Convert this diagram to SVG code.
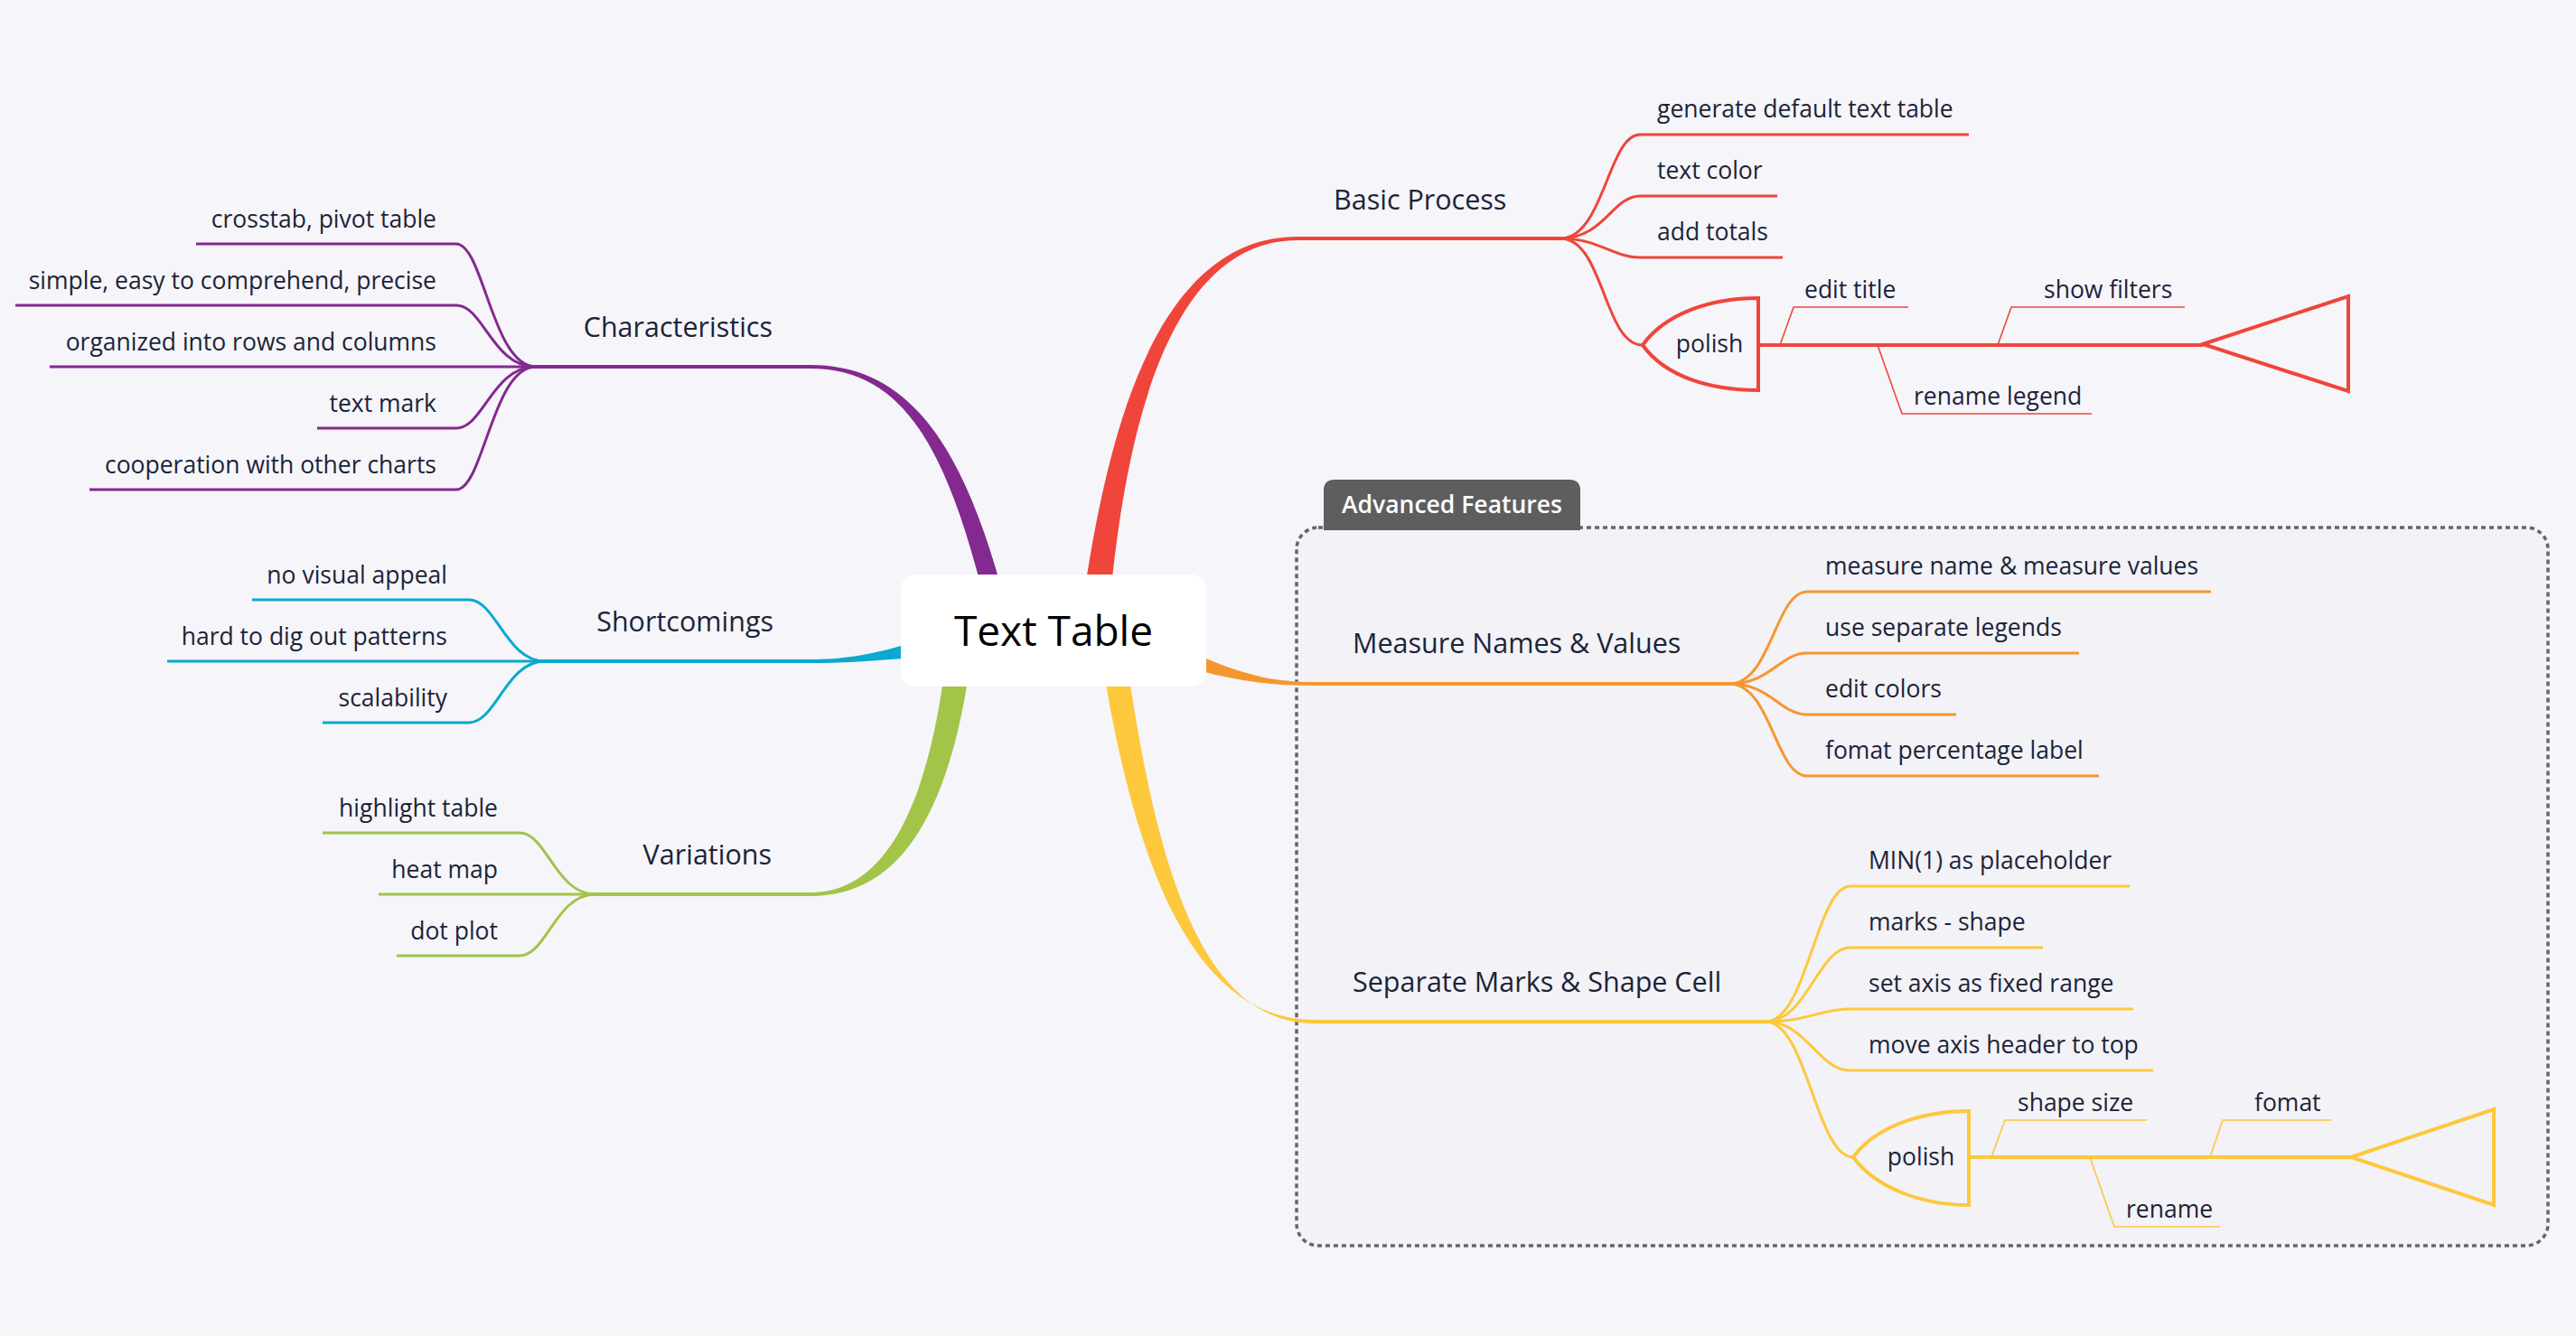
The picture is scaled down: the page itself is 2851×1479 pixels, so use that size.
<svg xmlns="http://www.w3.org/2000/svg" width="2851" height="1479" viewBox="0 0 2851 1479">
<style>
text{font-family:"Open Sans","Noto Sans","Liberation Sans",sans-serif;fill:#1C2437}
.sub{font-size:26.5px}
.main{font-size:30.5px}
.end{text-anchor:end}
.mid{text-anchor:middle}
.ln{fill:none;stroke-linecap:butt;stroke-linejoin:round}
.c3{stroke-width:3}
.c4{stroke-width:4}
.thin{stroke-width:1.6}
.pu{stroke:#83298F}
.te{stroke:#0AA9CF}
.gr{stroke:#A2C449}
.re{stroke:#F0453A}
.or{stroke:#F7962F}
.ye{stroke:#FDC83B}
</style>
<rect x="0" y="0" width="2851" height="1479" fill="#F5F5FA"/>

<g id="boundary-advanced-features">
<rect x="1435" y="584" width="1385" height="795" rx="24" fill="#F2F2F7" stroke="#666666" stroke-width="3.5" stroke-dasharray="5 4"/>
<path d="M1465,587 V543 Q1465,531 1477,531 H1737 Q1749,531 1749,543 V587 Z" fill="#5E5E5E"/>
<text x="1607" y="568" class="mid" style="font-size:26.5px;font-weight:600;fill:#FFFFFF">Advanced Features</text>
</g>

<g id="connectors">
<!-- root tapered branches -->
<path d="M1108,650 C1063,488 1003,404 897,404 L897,408 C997,408 1045,492 1086,650 Z" fill="#83298F"/>
<path d="M1201,650 C1225,495 1275,262 1436,262 L1436,266 C1285,266 1245,505 1230,650 Z" fill="#F0453A"/>
<path d="M1330,727 C1380,748 1410,755 1455,755 L1455,759 C1410,759 1375,755 1330,743 Z" fill="#F7962F"/>
<path d="M1208,650 C1240,900 1300,1129 1455,1129 L1455,1133 C1310,1133 1268,900 1236,650 Z" fill="#FDC83B"/>
<path d="M1054,650 C1040,880 985,988 897,988 L897,992 C1005,992 1065,885 1083,650 Z" fill="#A2C449"/>
<path d="M1000,714 C960,726 930,730 897,730 L897,734 C930,734 960,732 1000,729 Z" fill="#0AA9CF"/>

<!-- main topic lines -->
<path class="ln c4 pu" d="M593,406 H897"/>
<path class="ln c4 te" d="M603,732 H897"/>
<path class="ln c4 gr" d="M659,990 H897"/>
<path class="ln c4 re" d="M1433,264 H1727"/>
<path class="ln c4 or" d="M1455,757 H1914"/>
<path class="ln c4 ye" d="M1455,1131 H1954"/>

<!-- Characteristics children -->
<path class="ln c3 pu" d="M217,270 H505 C535,270 545,406 593,406"/>
<path class="ln c3 pu" d="M17,338 H505 C535,338 545,406 593,406"/>
<path class="ln c3 pu" d="M55,406 H593"/>
<path class="ln c3 pu" d="M351,474 H505 C535,474 545,406 593,406"/>
<path class="ln c3 pu" d="M99,542 H505 C535,542 545,406 593,406"/>

<!-- Shortcomings children -->
<path class="ln c3 te" d="M279,664 H519 C549,664 560,732 603,732"/>
<path class="ln c3 te" d="M185,732 H603"/>
<path class="ln c3 te" d="M357,800 H519 C549,800 560,732 603,732"/>

<!-- Variations children -->
<path class="ln c3 gr" d="M357,922 H575 C605,922 615,990 659,990"/>
<path class="ln c3 gr" d="M419,990 H659"/>
<path class="ln c3 gr" d="M439,1058 H575 C605,1058 615,990 659,990"/>

<!-- Basic Process children -->
<path class="ln c3 re" d="M1727,264 C1775,264 1780,149 1815,149 H2179"/>
<path class="ln c3 re" d="M1727,264 C1775,264 1785,217 1815,217 H1967"/>
<path class="ln c3 re" d="M1727,264 C1770,264 1785,285 1815,285 H1973"/>
<path class="ln c3 re" d="M1727,264 C1775,264 1775,382 1818,382"/>

<!-- Measure Names children -->
<path class="ln c3 or" d="M1914,757 C1960,757 1965,655 2000,655 H2447"/>
<path class="ln c3 or" d="M1914,757 C1960,757 1970,723 2000,723 H2301"/>
<path class="ln c3 or" d="M1914,757 C1960,757 1970,791 2000,791 H2165"/>
<path class="ln c3 or" d="M1914,757 C1960,757 1965,859 2000,859 H2323"/>

<!-- Separate Marks children -->
<path class="ln c3 ye" d="M1954,1131 C2000,1131 2010,981 2048,981 H2357"/>
<path class="ln c3 ye" d="M1954,1131 C2000,1131 2012,1049 2048,1049 H2261"/>
<path class="ln c3 ye" d="M1954,1131 C2000,1131 2015,1117 2048,1117 H2361"/>
<path class="ln c3 ye" d="M1954,1131 C2000,1131 2012,1185 2048,1185 H2383"/>
<path class="ln c3 ye" d="M1954,1131 C2000,1131 2010,1281 2051,1281"/>

<!-- fishbone (red polish) -->
<path class="ln c4 re" d="M1946,382 H2438"/>
<path class="ln thin re" d="M1970,382 L1985,340 H2112"/>
<path class="ln thin re" d="M2211,382 L2226,340 H2418"/>
<path class="ln thin re" d="M2078,382 L2105,458 H2315"/>

<!-- fishbone (yellow polish) -->
<path class="ln c4 ye" d="M2179,1281 H2602"/>
<path class="ln thin ye" d="M2204,1281 L2219,1240 H2376"/>
<path class="ln thin ye" d="M2446,1281 L2460,1240 H2580"/>
<path class="ln thin ye" d="M2313,1281 L2340,1358 H2457"/>
</g>

<g id="node-root">
<rect x="997" y="636" width="338" height="124" rx="16" fill="#FFFFFF"/>
<text x="1166" y="715" class="mid" style="font-size:46px;fill:#000000">Text Table</text>
</g>

<g id="node-characteristics"><text x="855" y="373" class="main end">Characteristics</text></g>
<g id="node-crosstab"><text x="483" y="252" class="sub end">crosstab, pivot table</text></g>
<g id="node-simple"><text x="483" y="320" class="sub end">simple, easy to comprehend, precise</text></g>
<g id="node-organized"><text x="483" y="388" class="sub end">organized into rows and columns</text></g>
<g id="node-text-mark"><text x="483" y="456" class="sub end">text mark</text></g>
<g id="node-cooperation"><text x="483" y="524" class="sub end">cooperation with other charts</text></g>

<g id="node-shortcomings"><text x="856" y="699" class="main end">Shortcomings</text></g>
<g id="node-no-visual"><text x="495" y="646" class="sub end">no visual appeal</text></g>
<g id="node-hard-to-dig"><text x="495" y="714" class="sub end">hard to dig out patterns</text></g>
<g id="node-scalability"><text x="495" y="782" class="sub end">scalability</text></g>

<g id="node-variations"><text x="854" y="957" class="main end">Variations</text></g>
<g id="node-highlight"><text x="551" y="904" class="sub end">highlight table</text></g>
<g id="node-heat-map"><text x="551" y="972" class="sub end">heat map</text></g>
<g id="node-dot-plot"><text x="551" y="1040" class="sub end">dot plot</text></g>

<g id="node-basic-process"><text x="1476" y="232" class="main">Basic Process</text></g>
<g id="node-generate"><text x="1834" y="130" class="sub">generate default text table</text></g>
<g id="node-text-color"><text x="1834" y="198" class="sub">text color</text></g>
<g id="node-add-totals"><text x="1834" y="266" class="sub">add totals</text></g>
<g id="node-polish-1">
<path d="M1946,330 C1893,330 1843,347 1818,382 C1843,417 1893,432 1946,432 Z" fill="none" stroke="#F0453A" stroke-width="4" stroke-linejoin="miter"/>
<text x="1892" y="390" class="sub mid">polish</text>
</g>
<g id="node-polish-1-head"><path d="M2438,381 L2599,328 L2599,433 Z" fill="none" stroke="#F0453A" stroke-width="4"/></g>
<g id="node-edit-title"><text x="1997" y="330" class="sub">edit title</text></g>
<g id="node-show-filters"><text x="2262" y="330" class="sub">show filters</text></g>
<g id="node-rename-legend"><text x="2118" y="448" class="sub">rename legend</text></g>

<g id="node-measure-names"><text x="1497" y="723" class="main">Measure Names &amp; Values</text></g>
<g id="node-measure-name-values"><text x="2020" y="636" class="sub">measure name &amp; measure values</text></g>
<g id="node-separate-legends"><text x="2020" y="704" class="sub">use separate legends</text></g>
<g id="node-edit-colors"><text x="2020" y="772" class="sub">edit colors</text></g>
<g id="node-fomat-percentage"><text x="2020" y="840" class="sub">fomat percentage label</text></g>

<g id="node-separate-marks"><text x="1497" y="1098" class="main">Separate Marks &amp; Shape Cell</text></g>
<g id="node-min1"><text x="2068" y="962" class="sub">MIN(1) as placeholder</text></g>
<g id="node-marks-shape"><text x="2068" y="1030" class="sub">marks - shape</text></g>
<g id="node-set-axis"><text x="2068" y="1098" class="sub">set axis as fixed range</text></g>
<g id="node-move-axis"><text x="2068" y="1166" class="sub">move axis header to top</text></g>
<g id="node-polish-2">
<path d="M2179,1230 C2127,1230 2076,1247 2051,1281 C2076,1315 2127,1334 2179,1334 Z" fill="none" stroke="#FDC83B" stroke-width="4" stroke-linejoin="miter"/>
<text x="2126" y="1290" class="sub mid">polish</text>
</g>
<g id="node-polish-2-head"><path d="M2602,1281 L2760,1228 L2760,1334 Z" fill="none" stroke="#FDC83B" stroke-width="4"/></g>
<g id="node-shape-size"><text x="2233" y="1230" class="sub">shape size</text></g>
<g id="node-fomat"><text x="2495" y="1230" class="sub">fomat</text></g>
<g id="node-rename"><text x="2353" y="1348" class="sub">rename</text></g>
</svg>
